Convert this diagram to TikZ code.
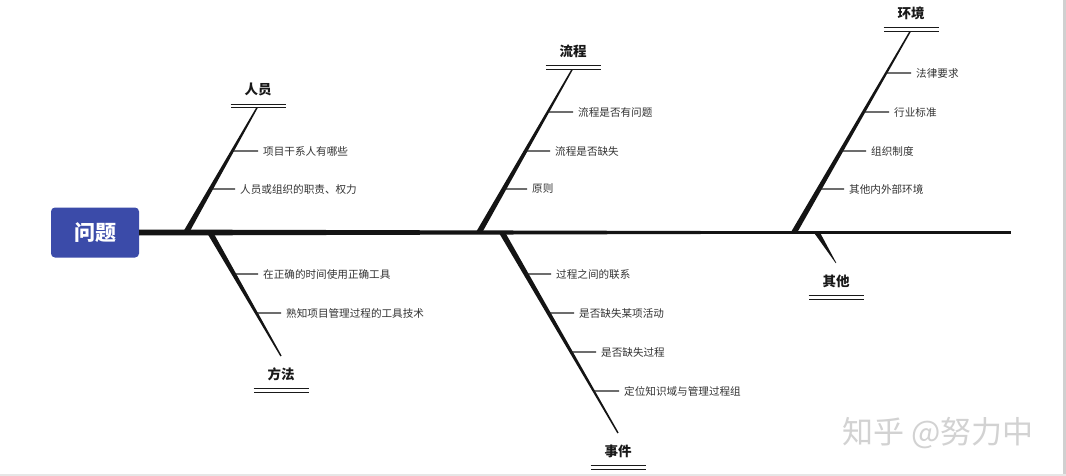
\documentclass[tikz,border=0pt]{standalone}
\usepackage{fontspec}
\setmainfont{Noto Sans CJK SC}
\usetikzlibrary{calc}
\definecolor{qblue}{HTML}{3B4BA9}
\definecolor{txtgray}{HTML}{333333}
\definecolor{wmgray}{HTML}{D2D2D2}
\definecolor{framegray}{HTML}{D0D0D0}
\definecolor{bandgray}{HTML}{E6E6E6}
\newcommand\mytaper[4]{\fill[black!92] ($(#1)!#3!90:(#2)$) -- ($(#2)!#4!-90:(#1)$) -- ($(#2)!#4!90:(#1)$) -- ($(#1)!#3!-90:(#2)$) -- cycle;}
\begin{document}
\begin{tikzpicture}[x=1pt,y=-1pt,
  subtxt/.style={anchor=west, inner sep=0pt, font=\fontsize{10.6}{12}\selectfont, text=txtgray},
  ttl/.style={inner sep=0pt, font=\fontsize{13.5}{15}\selectfont\bfseries, text=black!90},
  ticks/.style={draw=black!88, line width=1.4pt, shorten >=5pt},
  dbl/.style={draw=black!90, double, double distance=2.4pt, line width=1.2pt}]
\useasboundingbox (0,0) rectangle (1066,476);
\fill[white] (0,0) rectangle (1066,476);
\fill[framegray] (1063,0) rectangle (1066,476);
\fill[bandgray] (0,474) rectangle (1066,476);

% problem box
\node[fill=qblue, rounded corners=4pt, minimum width=88pt, minimum height=50pt,
      inner sep=0pt, text=white, font=\fontsize{21}{23}\selectfont\bfseries] (q) at (95,232.5) {问题};

% spine
\coordinate (S0) at (139,232.5);
\coordinate (S1) at (794,232.5);
\coordinate (S2) at (1011,232.5);
\mytaper{S0}{S1}{3pt}{1.25pt}
\draw[black!92, line width=2.4pt] (S1) -- (S2);

% branch coordinates
\coordinate (B1) at (186,232.5); \coordinate (E1) at (258,106);
\coordinate (B2) at (210,232.5); \coordinate (E2) at (281,356);
\coordinate (B3) at (479,232.5); \coordinate (E3) at (573,68);
\coordinate (B4) at (502,232.5); \coordinate (E4) at (618,433);
\coordinate (B5) at (794,232.5); \coordinate (E5) at (911,30);
\coordinate (B6) at (817,232.5); \coordinate (E6) at (836,263);

\mytaper{B1}{E1}{2.8pt}{0.7pt}
\mytaper{B2}{E2}{2.8pt}{0.7pt}
\mytaper{B3}{E3}{2.8pt}{0.7pt}
\mytaper{B4}{E4}{2.8pt}{0.7pt}
\mytaper{B5}{E5}{2.8pt}{0.7pt}
\mytaper{B6}{E6}{2.6pt}{0.3pt}

% titles
\node[ttl] (t1) at (258,89.5) {人员};
\node[ttl] (t2) at (281,374) {方法};
\node[ttl] (t3) at (573,51) {流程};
\node[ttl] (t4) at (618,451) {事件};
\node[ttl] (t5) at (911,13) {环境};
\node[ttl] (t6) at (836,281) {其他};
\foreach \t in {t1,t2,t3,t4,t5,t6}{
  \draw[dbl] ($(\t.center)+(-27.5,16.5)$) -- ($(\t.center)+(27.5,16.5)$);
}

% sub items: 人员
\node[subtxt] (s11) at (263,151) {项目干系人有哪些};
\node[subtxt] (s12) at (240,189) {人员或组织的职责、权力};
\draw[ticks] (intersection of B1--E1 and s11.west--s11.east) -- (s11.west);
\draw[ticks] (intersection of B1--E1 and s12.west--s12.east) -- (s12.west);

% 方法
\node[subtxt] (s21) at (263,274) {在正确的时间使用正确工具};
\node[subtxt] (s22) at (286,313) {熟知项目管理过程的工具技术};
\draw[ticks] (intersection of B2--E2 and s21.west--s21.east) -- (s21.west);
\draw[ticks] (intersection of B2--E2 and s22.west--s22.east) -- (s22.west);

% 流程
\node[subtxt] (s31) at (578,112) {流程是否有问题};
\node[subtxt] (s32) at (555,151) {流程是否缺失};
\node[subtxt] (s33) at (532,189) {原则};
\draw[ticks] (intersection of B3--E3 and s31.west--s31.east) -- (s31.west);
\draw[ticks] (intersection of B3--E3 and s32.west--s32.east) -- (s32.west);
\draw[ticks] (intersection of B3--E3 and s33.west--s33.east) -- (s33.west);

% 事件
\node[subtxt] (s41) at (556,274) {过程之间的联系};
\node[subtxt] (s42) at (579,313) {是否缺失某项活动};
\node[subtxt] (s43) at (601,352) {是否缺失过程};
\node[subtxt] (s44) at (624,391) {定位知识域与管理过程组};
\draw[ticks] (intersection of B4--E4 and s41.west--s41.east) -- (s41.west);
\draw[ticks] (intersection of B4--E4 and s42.west--s42.east) -- (s42.west);
\draw[ticks] (intersection of B4--E4 and s43.west--s43.east) -- (s43.west);
\draw[ticks] (intersection of B4--E4 and s44.west--s44.east) -- (s44.west);

% 环境
\node[subtxt] (s51) at (916,73) {法律要求};
\node[subtxt] (s52) at (894,112) {行业标准};
\node[subtxt] (s53) at (871,151) {组织制度};
\node[subtxt] (s54) at (849,189) {其他内外部环境};
\draw[ticks] (intersection of B5--E5 and s51.west--s51.east) -- (s51.west);
\draw[ticks] (intersection of B5--E5 and s52.west--s52.east) -- (s52.west);
\draw[ticks] (intersection of B5--E5 and s53.west--s53.east) -- (s53.west);
\draw[ticks] (intersection of B5--E5 and s54.west--s54.east) -- (s54.west);

% watermark
\node[inner sep=0pt, font=\fontsize{31}{33}\selectfont, text=wmgray] (wm) at (938,433) {知乎 @努力中};
\end{tikzpicture}
\end{document}
